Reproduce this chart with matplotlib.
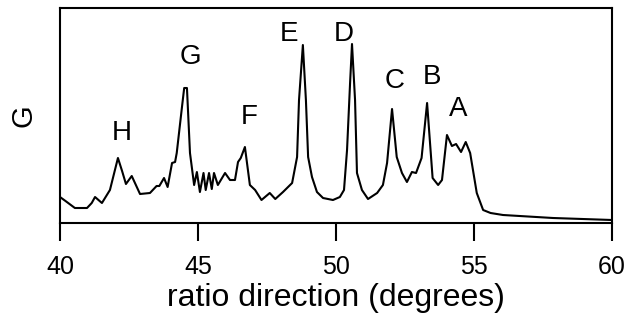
import matplotlib
matplotlib.use('Agg')
from matplotlib import pyplot as plt

plt.rcParams['font.family'] = ['Liberation Sans', 'DejaVu Sans']

# curve (x in degrees, y in arbitrary units)
angle = [40.00, 40.20, 40.54, 40.98, 41.15, 41.27, 41.52, 41.81, 42.10, 42.25,
         42.39, 42.60, 42.90, 43.26, 43.50, 43.60, 43.77, 43.90, 44.06, 44.17,
         44.23, 44.42, 44.50, 44.60, 44.71, 44.86, 44.96, 45.07, 45.20, 45.28,
         45.40, 45.50, 45.58, 45.72, 45.98, 46.16, 46.34, 46.45, 46.55, 46.70,
         46.88, 47.07, 47.30, 47.60, 47.80, 48.08, 48.41, 48.59, 48.66, 48.80,
         48.91, 48.99, 49.13, 49.31, 49.53, 49.89, 50.14, 50.29, 50.40, 50.51,
         50.58, 50.69, 50.76, 50.94, 51.16, 51.49, 51.70, 51.85, 52.03, 52.14,
         52.20, 52.39, 52.57, 52.75, 52.90, 53.10, 53.30, 53.50, 53.70, 53.84,
         54.02, 54.20, 54.35, 54.53, 54.70, 54.86, 55.10, 55.33, 55.60, 56.05,
         57.86, 60.00]
g = [26, 22, 15, 15, 20, 26, 20, 33, 65, 52,
     39, 47, 29, 30, 37, 37, 45, 36, 60, 61,
     70, 116, 135, 135, 70, 38, 51, 31, 50, 33,
     50, 34, 50, 38, 50, 43, 43, 61, 65, 76,
     38, 33, 23, 30, 24, 31, 40, 66, 123, 178,
     123, 66, 46, 31, 25, 23, 26, 33, 73, 140,
     179, 123, 50, 33, 24, 30, 38, 60, 114, 83,
     66, 50, 41, 51, 50, 65, 120, 45, 38, 43,
     88, 77, 79, 71, 81, 70, 30, 13, 10, 8,
     5, 3]

peak_names = ['H', 'G', 'F', 'E', 'D', 'C', 'B', 'A']
peak_x = [42.25, 44.71, 46.85, 48.30, 50.27, 52.14, 53.48, 54.44]
peak_y = [90, 166, 106, 189.5, 189.5, 142, 146, 114]

fig = plt.figure(figsize=(6.36, 3.23), dpi=100)
ax = fig.add_axes([0.0943, 0.3096, 0.868, 0.6656])
ax.plot(angle, g, color='black', linewidth=1.5)
for name, px, py in zip(peak_names, peak_x, peak_y):
    ax.text(px, py, name, fontsize=20, ha='center', va='center')

ax.set_xlim(40, 60)
ax.set_ylim(0, 215)
ax.set_xticks([40, 45, 50, 55, 60])
ax.set_yticks([])
ax.tick_params(axis='x', length=13, width=1.5, labelsize=18, pad=10)
for s in ax.spines.values():
    s.set_linewidth(1.5)
ax.set_xlabel('ratio direction (degrees)', fontsize=23, labelpad=3)
ax.set_ylabel('G', fontsize=21, labelpad=16)

plt.savefig('out.png', dpi=100)
